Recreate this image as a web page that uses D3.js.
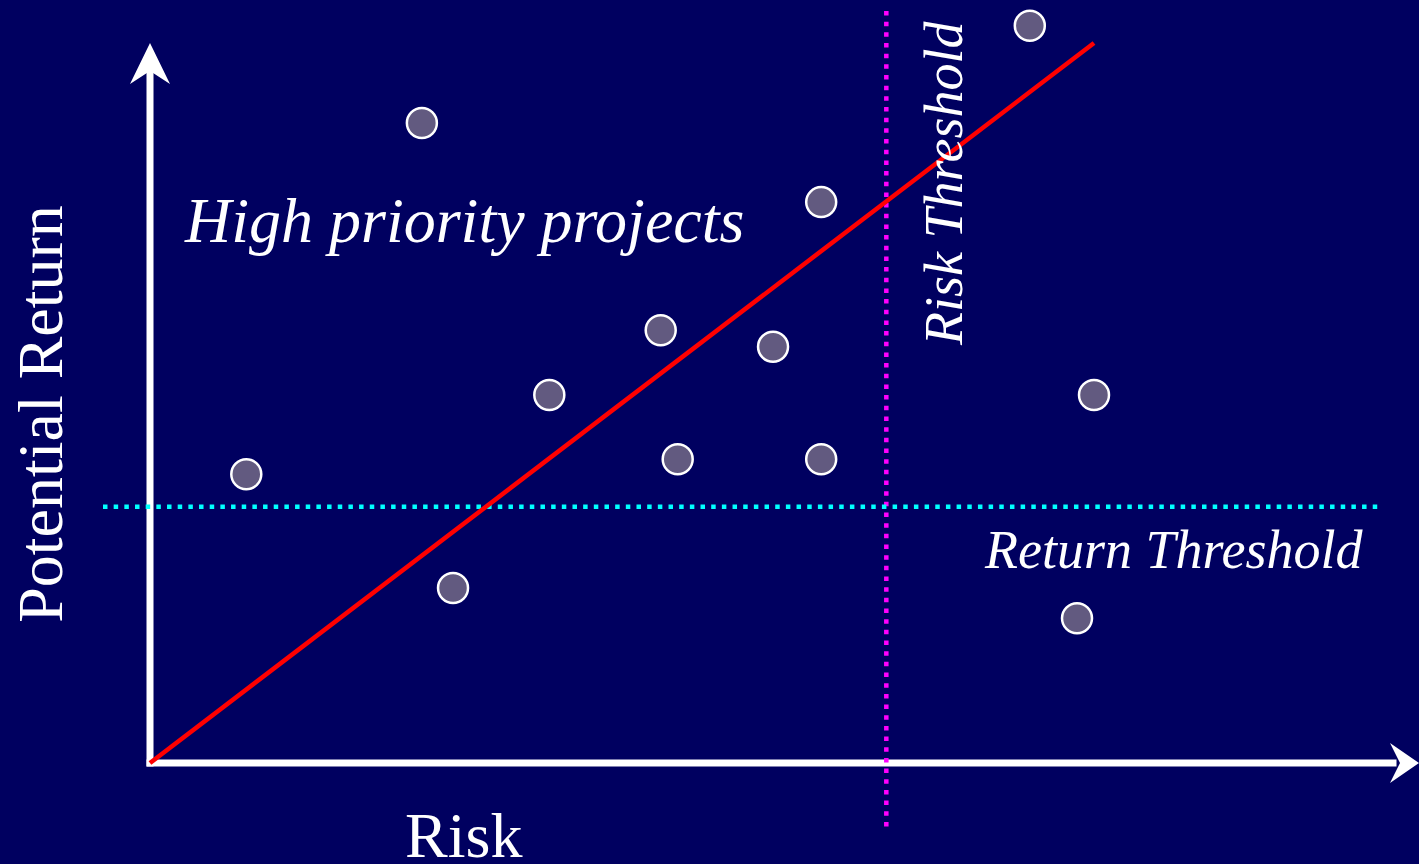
<!DOCTYPE html>
<html>
<head>
<meta charset="utf-8">
<script src="https://cdn.jsdelivr.net/npm/d3@7"></script>
<style>
  html, body { margin: 0; padding: 0; background: #000060; }
  svg { display: block; }
</style>
</head>
<body>
<div id="chart"></div>
<script>
// projects: risk (x) and potential return (y)
const riskValues = [2.88, 9.32, 7.11, 5.41, 6.60, 4.23, 10.0, 1.02, 5.59, 7.11, 3.21, 9.82]
const returnValues = [8.89, 10.24, 7.79, 6.01, 5.78, 5.11, 5.11, 4.01, 4.22, 4.22, 2.43, 2.01]
const riskThreshold = 7.80
const returnThreshold = 3.56
const trendLine = [[0, 0], [10, 10]]

const width = 1419
const height = 864
const font = '"Liberation Serif", "Times New Roman", serif'

const svg = d3.select('#chart').append('svg')
  .attr('width', width)
  .attr('height', height)

svg.append('rect')
  .attr('width', width)
  .attr('height', height)
  .attr('fill', '#000060')

const x = d3.scaleLinear().domain([0, 10]).range([150, 1094])
const y = d3.scaleLinear().domain([0, 10]).range([763, 43])

// axes with arrow heads
const axes = svg.append('g').attr('fill', '#fff').attr('stroke', 'none')

axes.append('rect')
  .attr('x', x(0) - 3.5).attr('y', 70)
  .attr('width', 7).attr('height', y(0) - 70 + 3.5)
axes.append('path')
  .attr('d', `M${x(0)},43 L${x(0) + 20},84 L${x(0)},71 L${x(0) - 20},84 Z`)

axes.append('rect')
  .attr('x', x(0) - 3.5).attr('y', y(0) - 3.5)
  .attr('width', 1400 - x(0)).attr('height', 7)
axes.append('path')
  .attr('d', `M1419,${y(0)} L1390,${y(0) - 20} L1400,${y(0)} L1390,${y(0) + 20} Z`)

// thresholds
svg.append('line')
  .attr('x1', x(riskThreshold)).attr('x2', x(riskThreshold))
  .attr('y1', 11).attr('y2', 828)
  .attr('stroke', '#ff00ff')
  .attr('stroke-width', 4.5)
  .attr('stroke-dasharray', '4.5 6.17')

svg.append('line')
  .attr('x1', 103).attr('x2', 1380)
  .attr('y1', y(returnThreshold)).attr('y2', y(returnThreshold))
  .attr('stroke', '#00ffff')
  .attr('stroke-width', 4.5)
  .attr('stroke-dasharray', '4.5 6.17')

// trend line
svg.append('path')
  .datum(trendLine)
  .attr('d', d3.line().x(d => x(d[0])).y(d => y(d[1])))
  .attr('stroke', '#ff0000')
  .attr('stroke-width', 4.5)
  .attr('fill', 'none')

// projects
svg.append('g')
  .selectAll('circle')
  .data(riskValues.map((r, i) => ({ risk: r, ret: returnValues[i] })))
  .join('circle')
  .attr('cx', d => x(d.risk))
  .attr('cy', d => y(d.ret))
  .attr('r', 15)
  .attr('fill', '#625a80')
  .attr('stroke', '#fff')
  .attr('stroke-width', 2.5)

// labels
svg.append('text')
  .attr('x', 185).attr('y', 242)
  .attr('font-family', font)
  .attr('font-style', 'italic')
  .attr('font-size', 64)
  .attr('fill', '#fff')
  .text('High priority projects')

svg.append('text')
  .attr('transform', 'translate(962,345) rotate(-90)')
  .attr('font-family', font)
  .attr('font-style', 'italic')
  .attr('font-size', 54)
  .attr('fill', '#fff')
  .text('Risk Threshold')

svg.append('text')
  .attr('x', 985).attr('y', 568)
  .attr('font-family', font)
  .attr('font-style', 'italic')
  .attr('font-size', 54)
  .attr('fill', '#fff')
  .text('Return Threshold')

svg.append('text')
  .attr('transform', 'translate(62,414) rotate(-90)')
  .attr('text-anchor', 'middle')
  .attr('font-family', font)
  .attr('font-size', 64)
  .attr('fill', '#fff')
  .text('Potential Return')

svg.append('text')
  .attr('x', 405).attr('y', 857)
  .attr('font-family', font)
  .attr('font-size', 64)
  .attr('fill', '#fff')
  .text('Risk')
</script>
</body>
</html>
